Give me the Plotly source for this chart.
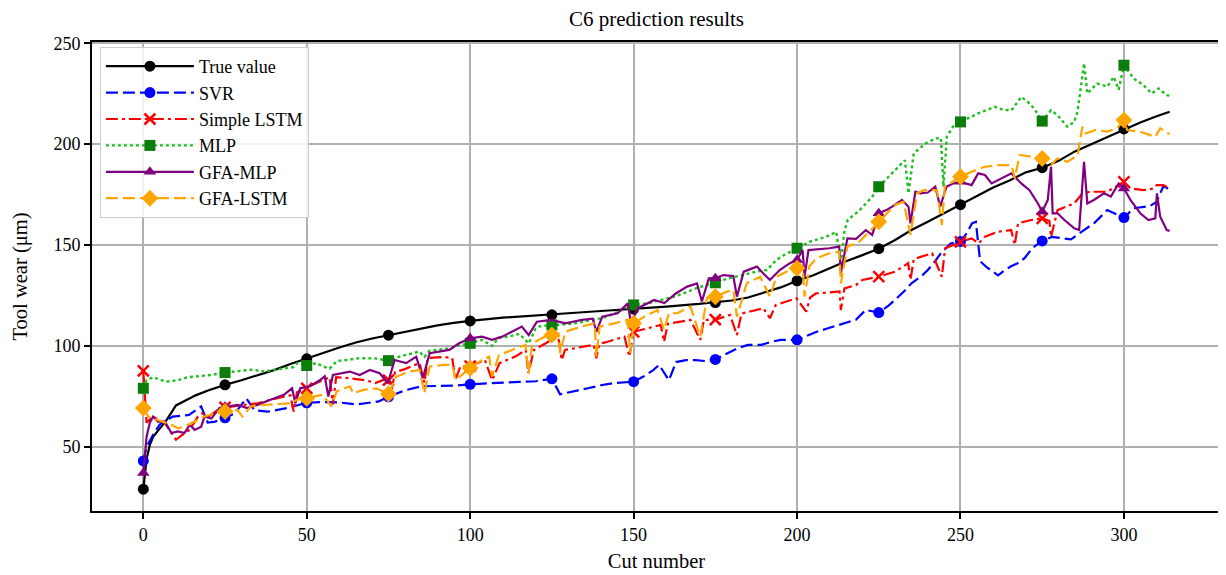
import plotly.graph_objects as go

# ---------------- data ----------------
true_x = [0, 1, 2, 3, 5, 7, 10, 13, 16, 20, 25, 30, 35, 40, 45, 50, 55, 60, 65, 70, 75, 80, 85, 90, 95, 100,
          110, 120, 125, 130, 140, 150, 160, 170, 175, 180, 185, 190, 195, 200, 205, 210, 215, 220, 225,
          230, 235, 240, 245, 250, 255, 260, 265, 270, 275, 280, 285, 290, 295, 300, 305, 310, 314]
true_y = [29, 44, 51, 55, 59, 63, 70.5, 73, 75.5, 78, 80.7, 83, 85.5, 88, 91, 93.6, 96.5, 99.2, 101.7, 103.7,
          105.3, 107, 108.7, 110.2, 111.4, 112.4, 114, 115, 115.4, 116.2, 117.3, 118.3, 119.5, 120.8, 121.5,
          122.5, 124, 126.5, 129, 132.3, 135, 138.5, 142, 145, 148.2, 152.5, 157.4, 161.5, 165.7, 170, 174.5,
          178.5, 182, 186, 188.3, 191.7, 196.4, 200, 203.8, 207.5, 210.7, 213.8, 216]

svr_x = [0, 1, 3, 5, 9, 14, 17.7, 19.7, 22, 25, 28, 31.5, 34, 38, 44, 50, 55, 60, 65, 68, 72, 75, 80, 85, 90,
         95, 100, 105, 110, 115, 120, 125, 127.5, 130, 133, 136, 140, 144, 150, 153, 156, 157.8, 160.8, 163,
         166, 169, 172, 175, 179, 182, 185, 189, 192, 195, 200, 203, 206, 209, 212, 215, 218, 221, 225, 228,
         230, 233, 235, 238, 240, 242, 244, 247, 250, 252, 253.5, 254.7, 256, 258, 261.5, 263.5, 265.5,
         267.5, 269.6, 272, 275, 278, 281, 283.8, 287.8, 291, 294.9, 297.5, 300, 303, 306, 308, 310, 312,
         313, 314]
svr_y = [43, 50, 56, 61, 65, 65.8, 70, 62, 62.5, 64.4, 66.5, 74, 68.2, 67.4, 69.2, 71.8, 72.2, 72, 71, 71.6,
         72.5, 74.8, 78, 80, 80, 80.3, 81, 81.5, 81.8, 82.2, 82.5, 83.7, 76, 77, 78, 79, 80.5, 81.6, 82.3,
         84.8, 88, 90.6, 83, 92, 93, 93, 92.5, 93.3, 96.5, 99, 100.5, 100.5, 102, 103, 103, 105, 107, 108.5,
         110, 111.5, 113, 117.8, 116.5, 120, 122.8, 127.5, 131, 134.5, 137.6, 141.5, 145.9, 150.8, 151.8,
         156, 160.7, 161.5, 142, 139, 135, 137.5, 139.5, 141, 143.5, 148.5, 152, 154, 153.5, 152.8, 157.4,
         161, 167.3, 165.5, 163.6, 168.2, 168.8, 169.3, 171.4, 178.9, 178.5, 177]

lstm_x = [0, 1, 3, 6.6, 8.6, 10, 12, 14.2, 16.7, 18, 20, 22.8, 25, 26.8, 30.8, 34.9, 38.9, 43, 45, 46, 47,
          50, 51.6, 55, 57, 58, 59, 63, 65, 68, 71, 74, 75, 76, 77, 80, 84.5, 86, 87, 92, 94.5, 95.5, 97, 100,
          104.5, 106.7, 109, 113.8, 117, 117.8, 119.5, 124.9, 127, 128, 129, 131, 135, 137.8, 138.6, 139.5,
          141, 147.2, 148.7, 150, 154.2, 158.3, 159.3, 160.5, 167.4, 170.4, 171.5, 175, 179.5, 181.6, 183,
          189.7, 191.7, 193.5, 199.8, 202.8, 204, 205.8, 210, 213, 213.4, 214.5, 218, 220, 225, 230, 234,
          234.7, 235.7, 241.3, 244.3, 245.3, 250, 253.4, 255.5, 257.5, 261.5, 265.5, 266.6, 267.6, 271.6,
          275, 277.2, 277.7, 279.7, 284.8, 287.3, 289.8, 294.9, 297.7, 300, 302, 306, 309, 310, 312, 314]
lstm_y = [87.6, 62, 65, 61.7, 57, 53.5, 56, 58.4, 65, 66.6, 65, 68.3, 69.5, 70, 70.8, 71.6, 73.3, 74.9, 75.5,
          67.5, 77, 79, 80.7, 83, 84.5, 71, 84.5, 84, 83.5, 83, 81.6, 83.5, 83, 78.5, 87, 88.5, 91.5, 81.7,
          94, 94.5, 94, 83.2, 89.8, 90, 93, 83, 91.5, 94.7, 98, 86.5, 98, 103, 104, 93, 98, 98.5, 99.7, 100.5,
          93.9, 101, 101.6, 104.6, 94.7, 107, 108.7, 110.4, 102.1, 111, 112.9, 103, 112.9, 113, 115.3, 105.4,
          116, 118.7, 113.7, 120.3, 123.6, 117, 124, 126, 126.5, 127, 117.8, 128.5, 130.2, 132.7, 134.3,
          136.8, 141, 132.7, 143, 145.9, 134.3, 148.4, 151.5, 153.3, 150.8, 154.1, 156.6, 157.4, 150, 160.7,
          162.4, 163.2, 162, 154, 167.3, 170.6, 175.6, 176.4, 176.4, 178.9, 181.3, 178, 177.2, 178, 179.7,
          179.7, 178]

mlp_x = [0, 1, 3, 5, 7, 10.6, 13.6, 16.7, 20.8, 25, 28.7, 32.9, 36.9, 41, 46, 47, 50, 53, 55, 57, 59.2, 62,
         66, 71, 75, 78.4, 83.5, 84.5, 86, 87.5, 89.5, 93.6, 96, 100, 103.6, 106.7, 108.7, 111.8, 115, 117.9,
         120, 121, 125, 128, 132, 138.1, 141, 144.2, 147, 150, 154.3, 158.3, 162.4, 166, 169, 172, 175, 178,
         182, 185, 188, 190.7, 193.7, 196, 200, 203.8, 208.9, 212, 213.4, 214.5, 215.5, 219, 223, 225, 229,
         233, 234.1, 235.7, 239.3, 242.3, 244, 244.8, 245.8, 248.3, 250, 255.4, 260.5, 263, 265.6, 268.6,
         270.6, 272.6, 275, 277.7, 279.7, 282.7, 284.8, 285.8, 287.8, 288.8, 291.8, 294.9, 296.9, 298.4,
         300, 303, 306, 308.5, 310.6, 313, 314]
mlp_y = [79, 83, 84.5, 83.5, 82.3, 83, 84.5, 85, 85.6, 86.8, 87.5, 88.2, 87.4, 88.5, 89.5, 91.4, 90.3, 91.5,
         89.8, 88.8, 92.5, 93, 93.9, 93.8, 92.7, 94.7, 96.5, 97.2, 94.5, 97.5, 98, 98.8, 100, 101.3, 103,
         100, 104, 104.6, 106, 101.3, 108.5, 109.6, 110.4, 110.5, 111.2, 112.9, 114, 116.2, 118, 120.3,
         121.1, 122.8, 124.4, 126.5, 128.5, 130, 131.3, 133, 134.5, 136, 137, 137.6, 142.6, 145, 148.4,
         151.6, 154.1, 156.5, 141, 157, 162.4, 167, 173.9, 178.9, 185.5, 192, 175.6, 195.4, 200.3, 202.8,
         203, 178.9, 203.6, 210.2, 211, 215.2, 218.5, 217, 216.8, 223.4, 220.9, 217.5, 211.4, 216.8, 214.3,
         208.6, 211, 216, 240, 225.1, 230, 228.5, 233.3, 227, 239.1, 232.5, 229.2, 225.1, 227.6, 224.3, 224]

gmlp_x = [0, 1, 2, 3, 4.5, 6.6, 8.6, 10.6, 12.6, 14.2, 15.7, 17.7, 18.7, 20.8, 23.3, 25, 28.8, 31.8, 34.9,
          38.9, 43, 45.5, 46.5, 48, 51, 54, 55.5, 56.6, 58, 63.2, 66.2, 69.3, 72.3, 74.8, 76.9, 80.4, 83.5,
          85.5, 87.6, 93.6, 96.6, 100, 103.6, 106.7, 109.8, 115.8, 117.9, 120.4, 124.9, 129.1, 134.2, 137.5,
          138.6, 140.4, 145.1, 148.2, 149.2, 151.3, 156.3, 159.4, 162.9, 166.4, 169.4, 170.9, 173, 175,
          177.5, 180.5, 181.6, 183.7, 187.7, 189.7, 191.7, 194.7, 197.7, 200, 201.7, 202.3, 203.5, 209.9,
          212.9, 213.4, 215.4, 218, 221, 223, 225, 227.3, 229.1, 232.1, 234.1, 234.7, 236.2, 237.7, 240,
          242.3, 243.8, 245.7, 247.7, 250, 253.4, 255.4, 257.5, 259.5, 262.5, 265.6, 268.6, 271.1, 273.7,
          275, 276.7, 277.7, 278.2, 279.7, 281.8, 284.8, 286.3, 287.8, 288.8, 290.8, 293.9, 296, 298.4, 300,
          302, 305, 307.5, 309.6, 310.1, 311.1, 313.1, 314]
gmlp_y = [37, 55, 62, 65, 62.5, 62.5, 56.8, 57.6, 56.8, 60.9, 58.4, 60, 65, 64, 69.2, 69.8, 70.8, 69.2, 70.8,
          73.3, 75.8, 79, 71.6, 79, 80, 83, 85, 74.9, 85.6, 87.3, 85.6, 88.1, 86.5, 81.5, 93, 91.5, 94.7, 84,
          96.4, 98, 101.3, 103.8, 104.6, 103, 104.6, 109.6, 105.4, 112, 112.9, 111.2, 112.9, 113.5, 107,
          114.5, 116.2, 121.1, 111.2, 118.7, 122.8, 121.2, 126, 129.4, 131, 122, 133.5, 133.5, 135.1, 134.6,
          124.4, 136.8, 139.3, 135.9, 132.7, 137.6, 140.9, 142.6, 147.5, 134.3, 147.5, 148.4, 149.2, 136,
          153.3, 153, 157.4, 155, 165.7, 167.3, 169, 172.3, 169, 160.7, 176.4, 175.6, 176, 178.9, 169, 178.9,
          180.5, 181.3, 179.7, 185.5, 184.7, 180.5, 183, 185.5, 180.5, 177.2, 170.6, 166.5, 172.3, 188.8,
          165.7, 165.7, 162.4, 158.3, 157.4, 191.2, 170.6, 172.3, 175.6, 174, 180.5, 178, 172.3, 165.7,
          162.4, 163.2, 175.6, 164, 157.4, 157]

glstm_x = [0, 1.5, 4.5, 8.6, 10.6, 12.6, 15.7, 18.7, 21.8, 25, 28.8, 30.3, 32.9, 36.9, 41, 45, 47, 50, 55,
           57.5, 59.2, 63.2, 64.2, 67.3, 71.3, 75, 77.4, 81.5, 84.5, 86, 87.6, 91.6, 94.5, 95.6, 98.6, 100,
           103.6, 105.8, 106.7, 108.8, 112.8, 116.9, 117.9, 119, 122.9, 125, 127, 127.5, 129.1, 134, 138.1,
           138.6, 139.6, 144.2, 148.2, 149, 150, 153.3, 157.3, 159.3, 160.8, 163.4, 167.4, 170.4, 172.4, 175,
           178.5, 180.5, 181.6, 184.6, 188.7, 191.7, 193.7, 196.7, 200, 201.7, 202.3, 203.8, 205.8, 209.9,
           212.9, 213.4, 215.4, 219, 222.1, 225, 227.3, 230, 232.6, 234.7, 236.7, 238.8, 242.8, 244.3, 245.2,
           247.7, 250, 253.4, 257.5, 261.5, 265.6, 266.6, 268.1, 271.7, 275, 277.7, 279.7, 282.7, 285.8,
           287.3, 288.3, 291.4, 294.9, 297.9, 300, 301, 305, 309.6, 311.1, 313.6, 314]
glstm_y = [69.2, 65, 63.3, 60.9, 59.2, 60, 62.5, 65, 66.6, 67.5, 68.3, 65, 70, 70.8, 71.2, 71.6, 73.3, 74.1,
           75.8, 70, 77.5, 80, 76.6, 78.2, 79, 76.2, 84.8, 87.3, 88.1, 76.6, 89.8, 90.6, 90.6, 83.2, 87.3, 89,
           93, 94.7, 84.8, 95.5, 98, 100.5, 86.5, 101.3, 104.6, 105.4, 106.2, 96.4, 107, 109.6, 111.2, 94.7,
           109.6, 111.2, 113, 96.4, 111.2, 114.5, 117.8, 108, 116.2, 116.2, 119.5, 104.6, 123.6, 124.4, 126.9,
           127.7, 114.5, 131, 134.3, 124.4, 134.3, 136.8, 138.5, 139.3, 124.4, 139.5, 143.4, 145.9, 146.7,
           131, 149.2, 151.6, 156.6, 161.5, 165, 169.8, 171.4, 155, 175.6, 177.2, 177.2, 159.9, 178.9, 181.3,
           183.8, 186.3, 188.8, 189.6, 189.6, 183, 194.6, 193.8, 192.9, 189.6, 193, 191.2, 194.5, 208.6,
           205.3, 207, 206.2, 207.8, 211.9, 207, 206.1, 203.6, 207.8, 205.3, 205]

series_names = ["True value", "SVR", "Simple LSTM", "MLP", "GFA-MLP", "GFA-LSTM"]
x_ticks = [0, 50, 100, 150, 200, 250, 300]
y_ticks = [50, 100, 150, 200, 250]
marker_every = 25

# ---------------- styles ----------------
FONT = "Liberation Serif"
PAGE_OFFSET = 8  # default body margin of the html page
styles = [
    (true_x, true_y, dict(color="black", width=2.2, dash="solid"),
     dict(symbol="circle", color="black", size=11)),
    (svr_x, svr_y, dict(color="#0000ff", width=2.2, dash="12px,5px"),
     dict(symbol="circle", color="#0000ff", size=11)),
    (lstm_x, lstm_y, dict(color="#ff0000", width=2.2, dash="12px,4px,3px,4px"),
     dict(symbol="x-thin", color="#ff0000", size=11, line=dict(color="#ff0000", width=2.5))),
    (mlp_x, mlp_y, dict(color="#1fbf1f", width=2.4, dash="3px,3px"),
     dict(symbol="square", color="#0a7d0a", size=11)),
    (gmlp_x, gmlp_y, dict(color="#800080", width=2.2, dash="solid"),
     dict(symbol="triangle-up", color="#800080", size=11)),
    (glstm_x, glstm_y, dict(color="#ffa500", width=2.2, dash="12px,5px"),
     dict(symbol="diamond", color="#ffa500", size=13)),
]

fig = go.Figure()
for name, (xs, ys, line, marker) in zip(series_names, styles):
    fig.add_trace(go.Scatter(x=xs, y=ys, mode="lines", line=line, showlegend=False,
                             hoverinfo="skip"))
    mx = [x for x in xs if float(x).is_integer() and int(x) % marker_every == 0]
    my = [y for x, y in zip(xs, ys) if float(x).is_integer() and int(x) % marker_every == 0]
    fig.add_trace(go.Scatter(x=mx, y=my, mode="markers", marker=marker, showlegend=False))

for name, (xs, ys, line, marker) in zip(series_names, styles):
    fig.add_trace(go.Scatter(x=[None], y=[None], mode="lines+markers", line=line,
                             marker=marker, name=name))

axis_common = dict(
    showgrid=True, gridcolor="#b0b0b0", gridwidth=1.5,
    showline=True, linecolor="black", linewidth=1.8, mirror=True,
    ticks="outside", ticklen=6, tickwidth=1.5, tickcolor="black",
    tickfont=dict(family=FONT, size=18, color="black"),
    zeroline=False,
)

W, H = 1226 - PAGE_OFFSET, 575 - PAGE_OFFSET
plot_h = H - (42 - PAGE_OFFSET) - 64
fig.update_layout(
    width=W, height=H,
    margin=dict(l=92 - PAGE_OFFSET, r=3, t=42 - PAGE_OFFSET, b=64),
    paper_bgcolor="white", plot_bgcolor="white",
    title=dict(text="C6 prediction results", x=0.5, xref="paper", xanchor="center",
               y=1 - (19 - PAGE_OFFSET) / H, yanchor="middle",
               font=dict(family=FONT, size=21, color="black")),
    xaxis=dict(range=[-15.7, 329.7], tickvals=x_ticks,
               title=dict(text="Cut number", font=dict(family=FONT, size=20.5, color="black"),
                          standoff=10),
               **axis_common),
    yaxis=dict(range=[18.2, 250.6], tickvals=y_ticks,
               title=dict(text="Tool wear (μm)", font=dict(family=FONT, size=20.5, color="black"),
                          standoff=20),
               **axis_common),
    legend=dict(x=0.007, y=1 - 5 / plot_h, xanchor="left", yanchor="top",
                bgcolor="rgba(255,255,255,0.85)", bordercolor="#cccccc", borderwidth=1,
                font=dict(family=FONT, size=18, color="black"),
                itemwidth=88, tracegroupgap=0),
    showlegend=True,
)

fig.write_html("out.html")
